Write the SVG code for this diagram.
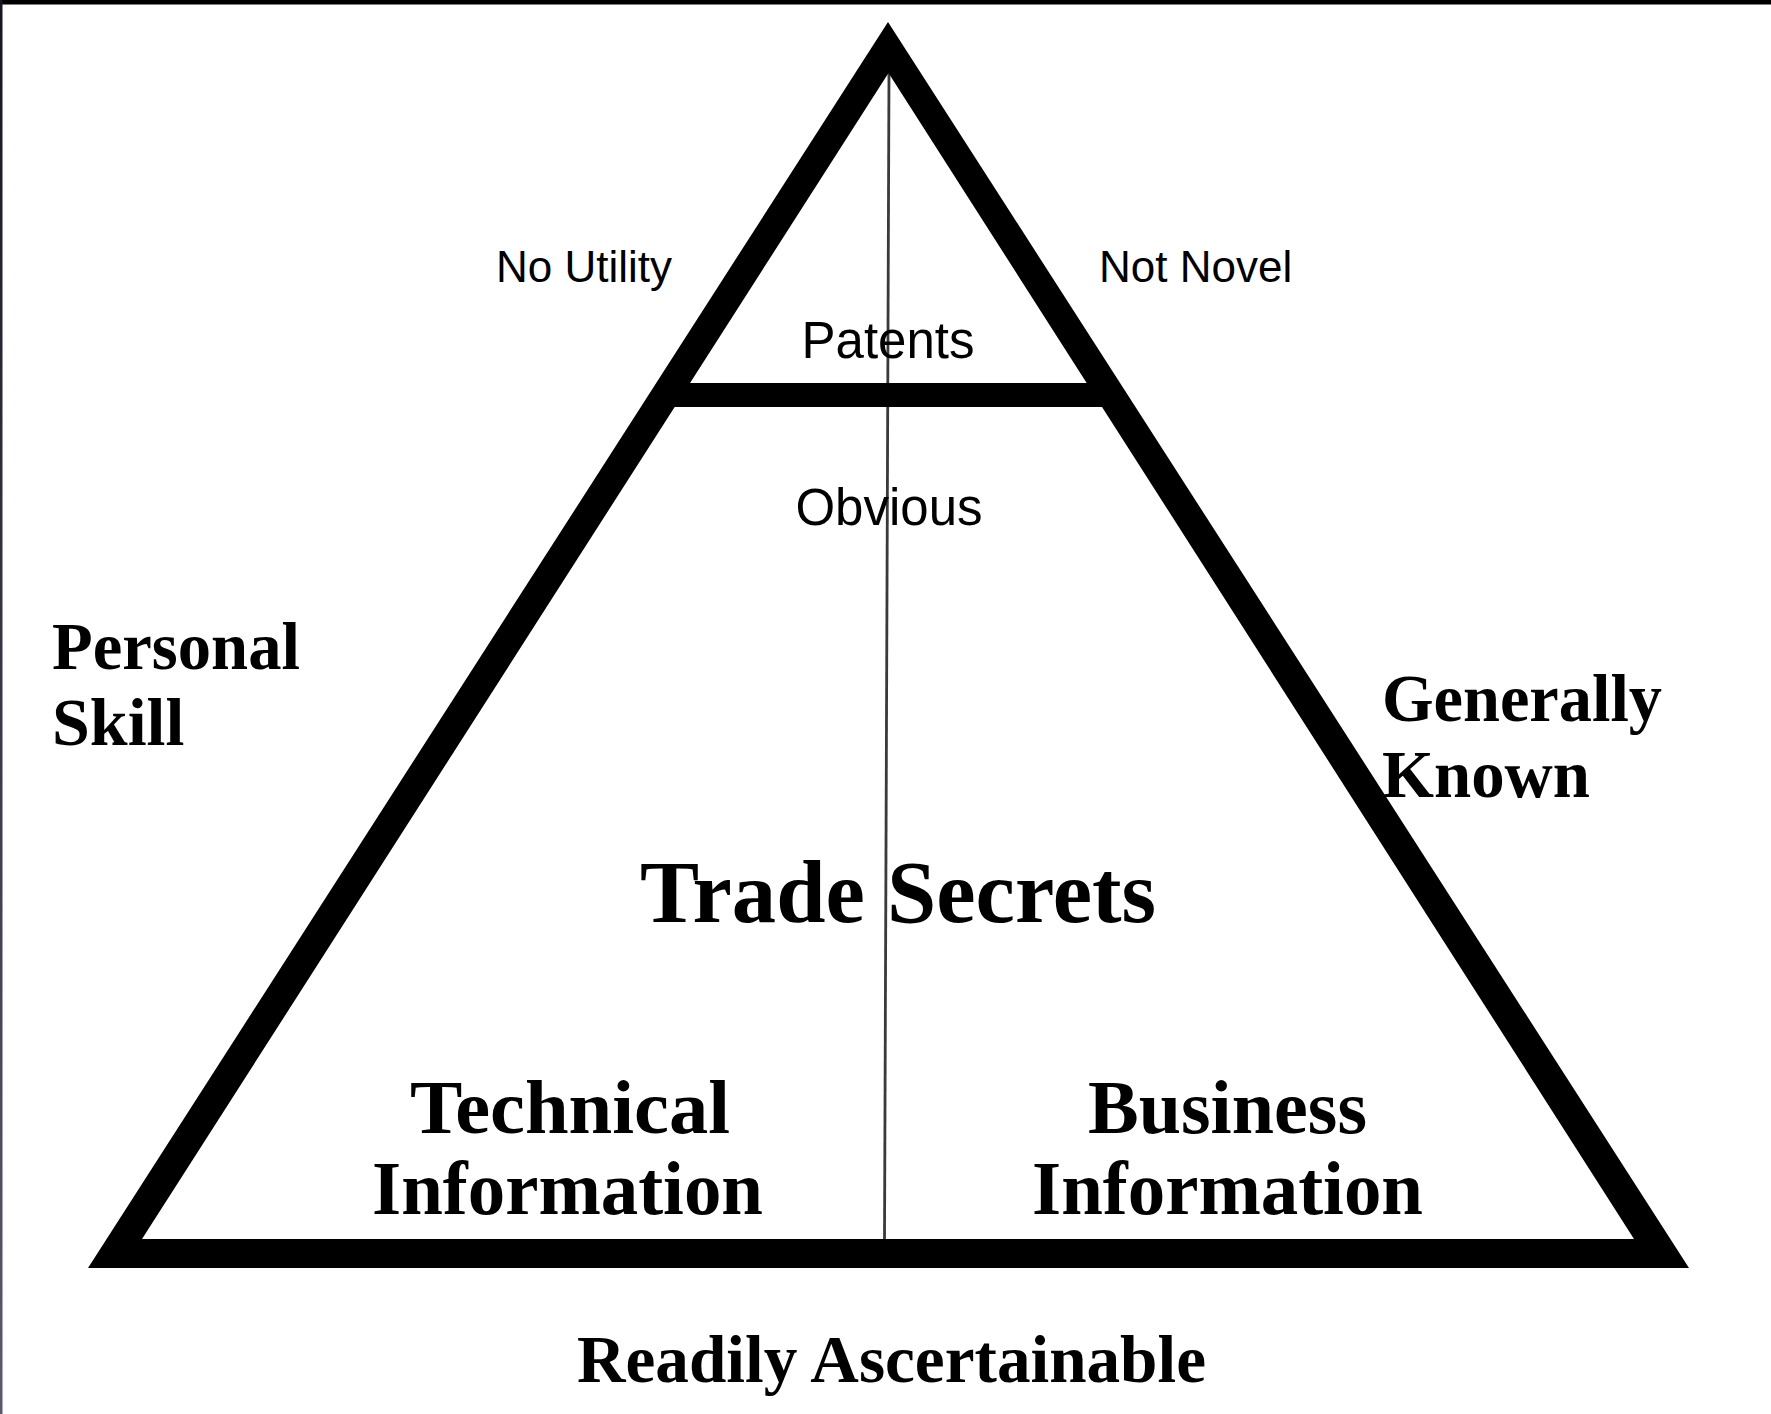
<svg xmlns="http://www.w3.org/2000/svg" width="1771" height="1414" viewBox="0 0 1771 1414">
  <defs>
    <linearGradient id="leftEdge" x1="0" y1="0" x2="0" y2="1">
      <stop offset="0" stop-color="#161622"/>
      <stop offset="1" stop-color="#5c5870"/>
    </linearGradient>
    <style>
      .sans { font-family: "Liberation Sans", Arial, sans-serif; fill: #000; }
      .serif { font-family: "Liberation Serif", "Times New Roman", serif; font-weight: bold; fill: #000; }
      .small { font-size: 44px; }
      .mid { font-size: 51px; }
      .label { font-size: 68px; }
      .info { font-size: 77px; }
    </style>
  </defs>
  <rect x="0" y="0" width="1771" height="1414" fill="#ffffff"/>
  <rect x="0" y="0" width="1771" height="4.5" fill="#000"/>
  <rect x="0" y="0" width="2.5" height="1414" fill="url(#leftEdge)"/>

  <g id="connectors">
    <line id="divider" x1="889" y1="73" x2="884.5" y2="1239" stroke="#3a3a3a" stroke-width="2.8"/>
  </g>

  <g id="pyramid">
    <path d="M888,22 L1689,1268 L88,1268 Z M888.5,73 L142,1239 L1634,1239 Z" fill="#000" fill-rule="evenodd"/>
    <rect x="665" y="383" width="447" height="24" fill="#000"/>
  </g>

  <g id="patents">
    <text class="sans small" x="496" y="282">No Utility</text>
    <text class="sans small" x="1099" y="282">Not Novel</text>
    <text class="sans mid" x="888" y="358" text-anchor="middle">Patents</text>
  </g>

  <g id="obvious">
    <text class="sans mid" x="889" y="525" text-anchor="middle">Obvious</text>
  </g>

  <g id="personal-skill">
    <text class="serif label" x="52" y="669" textLength="248" lengthAdjust="spacingAndGlyphs">Personal</text>
    <text class="serif label" x="52" y="745">Skill</text>
  </g>

  <g id="generally-known">
    <text class="serif label" x="1382" y="721" textLength="280" lengthAdjust="spacingAndGlyphs">Generally</text>
    <text class="serif label" x="1382" y="797" textLength="208" lengthAdjust="spacingAndGlyphs">Known</text>
  </g>

  <g id="trade-secrets">
    <text class="serif" x="640" y="922" font-size="88" textLength="516" lengthAdjust="spacingAndGlyphs">Trade Secrets</text>
  </g>

  <g id="technical-information">
    <text class="serif info" x="410" y="1133" textLength="320" lengthAdjust="spacingAndGlyphs">Technical</text>
    <text class="serif info" x="372" y="1214" textLength="391" lengthAdjust="spacingAndGlyphs">Information</text>
  </g>

  <g id="business-information">
    <text class="serif info" x="1088" y="1133" textLength="279" lengthAdjust="spacingAndGlyphs">Business</text>
    <text class="serif info" x="1032" y="1214" textLength="391" lengthAdjust="spacingAndGlyphs">Information</text>
  </g>

  <g id="readily-ascertainable">
    <text class="serif label" x="577" y="1382" textLength="629" lengthAdjust="spacingAndGlyphs">Readily Ascertainable</text>
  </g>
</svg>
